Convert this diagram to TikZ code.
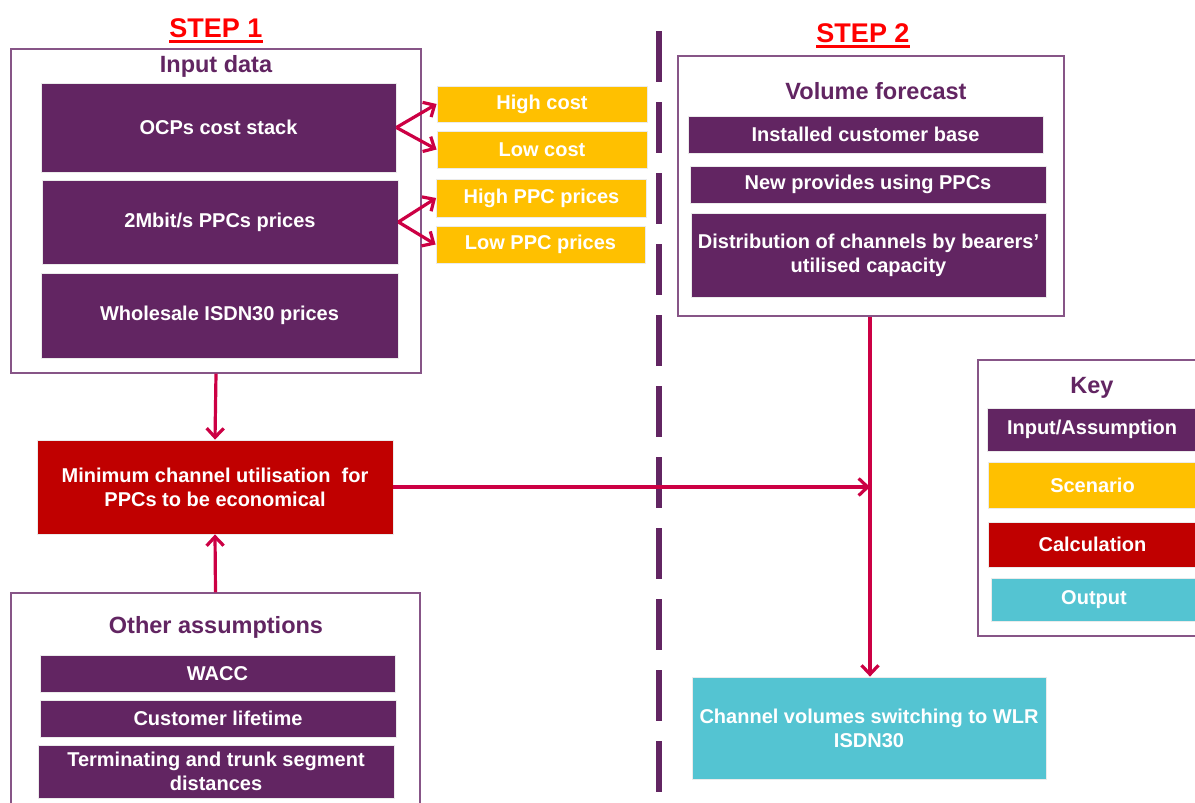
\documentclass[tikz,border=0pt]{standalone}
\usepackage{fontspec}
\setmainfont{Liberation Sans}
\usetikzlibrary{arrows.meta}
\definecolor{purp}{RGB}{98,37,98}
\definecolor{frm}{RGB}{135,85,135}
\definecolor{yel}{RGB}{255,192,0}
\definecolor{calcred}{RGB}{192,0,0}
\definecolor{outc}{RGB}{84,196,210}
\definecolor{arr}{RGB}{204,0,68}
\definecolor{stepred}{RGB}{255,0,0}
\begin{document}
\begin{tikzpicture}[x=1pt,y=-1pt,
  txt/.style={font=\bfseries\fontsize{20}{24}\selectfont, text=white, align=center, inner sep=0pt},
  pbox/.style={txt, fill=purp, draw=black!8, line width=0.8pt},
  ybox/.style={txt, fill=yel, draw=black!8, line width=0.8pt},
  rbox/.style={txt, fill=calcred, draw=black!8, line width=0.8pt},
  cbox/.style={txt, fill=outc, draw=black!8, line width=0.8pt},
  frame/.style={draw=frm, line width=1.3pt, fill=none, inner sep=0pt},
  ttl/.style={font=\bfseries\fontsize{23.5}{27}\selectfont, text=purp, inner sep=0pt},
  steptxt/.style={font=\bfseries\fontsize{27}{30}\selectfont, text=stepred, inner sep=0pt},
  conn/.style={draw=arr, line width=3.2pt, -{Straight Barb[length=9pt,width=17pt,line width=3.2pt]}}
]
\useasboundingbox (0,0) rectangle (1195,803);
\clip (0,0) rectangle (1195,803);
\fill[white] (0,0) rectangle (1195,803);

% divider
\draw[purp, line width=5.5pt, dash pattern=on 51pt off 20pt] (659,31) -- (659,795);

% step labels
\node[steptxt] (s1) at (216,28) {STEP 1};
\draw[stepred, line width=3pt] ([yshift=-4pt]s1.base west) -- ([yshift=-4pt]s1.base east);
\node[steptxt] (s2) at (863,33) {STEP 2};
\draw[stepred, line width=3pt] ([yshift=-4pt]s2.base west) -- ([yshift=-4pt]s2.base east);

% Input data
\node[frame, minimum width=410pt, minimum height=324pt] (inp) at (216,211) {};
\node[ttl] (inpt) at (216,66) {Input data};
\node[pbox, minimum width=355pt, minimum height=89pt] (ocp) at (218.5,127.5) {OCPs cost stack};
\node[pbox, minimum width=356pt, minimum height=84pt] (ppc) at (220,222) {2Mbit/s PPCs prices};
\node[pbox, minimum width=357pt, minimum height=85pt] (whs) at (219.5,315.5) {Wholesale ISDN30 prices};

% scenarios
\node[ybox, minimum width=210pt, minimum height=36pt] (hc) at (542,104) {High cost};
\node[ybox, minimum width=210pt, minimum height=37pt] (lc) at (542,149.5) {Low cost};
\node[ybox, minimum width=210pt, minimum height=38pt] (hp) at (541.5,198) {High PPC prices};
\node[ybox, minimum width=209pt, minimum height=37pt] (lp) at (540.5,244.5) {Low PPC prices};

\draw[conn] (ocp.east) -- (hc.west);
\draw[conn] (ocp.east) -- (lc.west);
\draw[conn] (ppc.east) -- (hp.west);
\draw[conn] (ppc.east) -- (lp.west);

% calculation
\node[rbox, minimum width=356pt, minimum height=94pt] (calc) at (215,487) {Minimum channel utilisation\ \ for\\PPCs to be economical};

% other assumptions
\node[frame, minimum width=409pt, minimum height=237pt] (oth) at (215.5,711.5) {};
\node[ttl] (otht) at (216,627) {Other assumptions};
\node[pbox, minimum width=355pt, minimum height=37pt] (wacc) at (217.5,673.5) {WACC};
\node[pbox, minimum width=356pt, minimum height=37pt] (cust) at (218,718.5) {Customer lifetime};
\node[pbox, minimum width=356pt, minimum height=53pt] (term) at (216,771.5) {Terminating and trunk segment\\distances};

\draw[conn] (inp.south) -- (calc.north);
\draw[conn] (oth.north) -- (calc.south);

% volume forecast
\node[frame, minimum width=386pt, minimum height=260pt] (vol) at (871,186) {};
\node[ttl] (volt) at (876,91) {Volume forecast};
\node[pbox, minimum width=355pt, minimum height=37pt] (inst) at (865.5,134.5) {Installed customer base};
\node[pbox, minimum width=356pt, minimum height=37pt] (newp) at (868,184.5) {New provides using PPCs};
\node[pbox, minimum width=355pt, minimum height=84pt] (dist) at (868.5,255) {Distribution of channels by bearers’\\utilised capacity};

% output
\node[cbox, minimum width=354pt, minimum height=102pt] (out) at (869,728) {Channel volumes switching to WLR\\ISDN30};

\coordinate (j) at (870,487);
\draw[conn] (j |- vol.south) -- (j |- out.north);
\draw[conn] (calc.east) -- (j);

% key
\node[frame, minimum width=237pt, minimum height=276pt] (key) at (1096.5,498) {};
\node[ttl] (keyt) at (1092,388) {Key};
\node[pbox, minimum width=210pt, minimum height=43pt] (k1) at (1092,429.5) {Input/Assumption};
\node[ybox, minimum width=209pt, minimum height=46pt] (k2) at (1092.5,485) {Scenario};
\node[rbox, minimum width=209pt, minimum height=45pt] (k3) at (1092.5,544.5) {Calculation};
\node[cbox, minimum width=206pt, minimum height=43pt] (k4) at (1094,599.5) {Output};
\end{tikzpicture}
\end{document}
